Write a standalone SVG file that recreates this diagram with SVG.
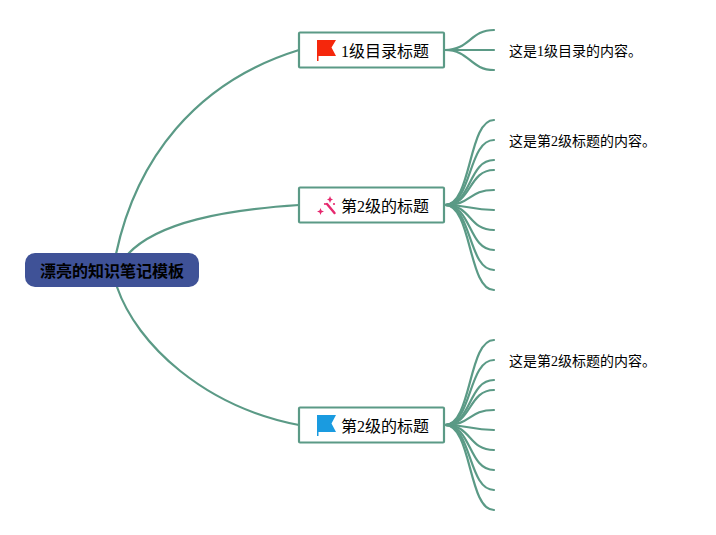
<svg xmlns="http://www.w3.org/2000/svg" width="716" height="535" viewBox="0 0 716 535">
<style>
text{font-family:"Liberation Serif","Noto Sans CJK SC",serif;fill:#000}
.c{fill:none;stroke:#5b9a86;stroke-width:2.200;stroke-linecap:round}
.b{fill:#fff;stroke:#5b9a86;stroke-width:2.200}
.t{font-size:16px}
.n{font-size:14px}
</style>
<rect width="716" height="535" fill="#fff"/>
<g id="connectors">
<path class="c" d="M116 254C136 160 195 82 299 50"/>
<path class="c" d="M128 254C158 222 225 210 299 205"/>
<path class="c" d="M117 287C137 345 205 407 299 425"/>
<path class="c" d="M445 50C470 50 470 30 494 30"/>
<path class="c" d="M445 50H494"/>
<path class="c" d="M445 50C470 50 470 70 494 70"/>
<g id="b2">
<path class="c" d="M445 205C472 205 468 120 494 120"/>
<path class="c" d="M445 205C472 205 468 140 494 140"/>
<path class="c" d="M445 205C472 205 468 160 494 160"/>
<path class="c" d="M445 205C472 205 468 170 494 170"/>
<path class="c" d="M445 205C472 205 468 190 494 190"/>
<path class="c" d="M445 205C472 205 468 210 494 210"/>
<path class="c" d="M445 205C472 205 468 230 494 230"/>
<path class="c" d="M445 205C472 205 468 250 494 250"/>
<path class="c" d="M445 205C472 205 468 270 494 270"/>
<path class="c" d="M445 205C472 205 468 290 494 290"/>
</g>
<g id="b3">
<path class="c" d="M445 425C472 425 468 340 494 340"/>
<path class="c" d="M445 425C472 425 468 360 494 360"/>
<path class="c" d="M445 425C472 425 468 380 494 380"/>
<path class="c" d="M445 425C472 425 468 390 494 390"/>
<path class="c" d="M445 425C472 425 468 410 494 410"/>
<path class="c" d="M445 425C472 425 468 430 494 430"/>
<path class="c" d="M445 425C472 425 468 450 494 450"/>
<path class="c" d="M445 425C472 425 468 470 494 470"/>
<path class="c" d="M445 425C472 425 468 490 494 490"/>
<path class="c" d="M445 425C472 425 468 510 494 510"/>
</g>
</g>
<g id="root">
<rect x="25" y="253" width="174" height="34" rx="10" fill="#3f5297"/>
<text x="112" y="277" text-anchor="middle" font-size="16" font-weight="700">漂亮的知识笔记模板</text>
</g>
<g id="node1">
<rect class="b" x="299" y="32.500" width="145" height="35" rx="1"/>
<path d="M317 40H336L331.500 47.500L336 56H318.500V61H317Z" fill="#f5270c"/>
<text class="t" x="341" y="57">1级目录标题</text>
</g>
<g id="node2">
<rect class="b" x="299" y="187.500" width="145" height="35" rx="1"/>
<g fill="#e6286e">
<path d="M327 204L334.500 213" stroke="#e6286e" stroke-width="2.400" stroke-linecap="round"/>
<path d="M320.500 208L321.500 210.500L324 211.500L321.500 212.500L320.500 215L319.500 212.500L317 211.500L319.500 210.500Z"/>
<path d="M330 196L331 198.500L333 199.500L331 200.500L330 203L329 200.500L327 199.500L329 198.500Z"/>
<circle cx="325" cy="204" r="1.100"/>
<circle cx="334" cy="204" r="1.100"/>
</g>
<text class="t" x="341" y="212">第2级的标题</text>
</g>
<g id="node3">
<rect class="b" x="299" y="407.500" width="145" height="35" rx="1"/>
<path d="M317 415H336L331.500 423.500L336 432H318.500V436H317Z" fill="#1a9be0"/>
<text class="t" x="341" y="432">第2级的标题</text>
</g>
<g id="leaf1"><text class="n" x="509" y="56">这是1级目录的内容。</text></g>
<g id="leaf2"><text class="n" x="509" y="146">这是第2级标题的内容。</text></g>
<g id="leaf3"><text class="n" x="509" y="366">这是第2级标题的内容。</text></g>
</svg>
